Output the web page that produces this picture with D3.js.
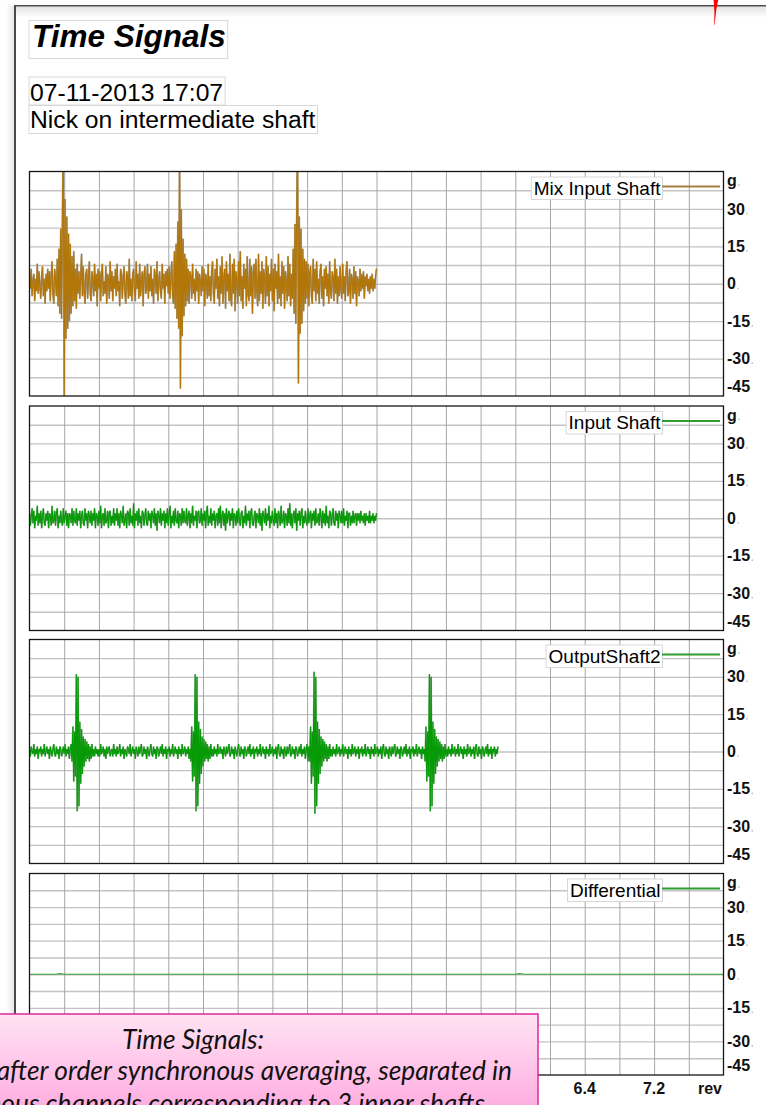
<!DOCTYPE html>
<html><head><meta charset="utf-8">
<script src="https://cdn.jsdelivr.net/npm/d3@7"></script>
<style>
html,body{margin:0;padding:0;background:#fff;}
svg{display:block;}
</style></head><body>
<svg id="chart" width="766" height="1105"></svg>
<script>
// ---- data ----
const revStep = 0.01; // sample spacing of the averaged signals, in revolutions
const channelNames = ["Mix Input Shaft", "Input Shaft", "OutputShaft2", "Differential"];
const xGridRev = [0.4,0.8,1.2,1.6,2.0,2.4,2.8,3.2,3.6,4.0,4.4,4.8,5.2,5.6,6.0,6.4,6.8,7.2,7.6];
const xTickRev = [0.8,1.6,2.4,3.2,4.0,4.8,5.6,6.4,7.2];
const xTickLabels = ["0.8","1.6","2.4","3.2","4.0","4.8","5.6","6.4","7.2"];
const xUnit = "rev";
const yGridG = [-37.5,-30,-22.5,-15,-7.5,0,7.5,15,22.5,30,37.5];
const yTickG = [30,15,0,-15,-30];
const yTickLabels = ["30","15","0","-15","-30"];
const yBottomLabel = "-45";
const yUnit = "g";

// acceleration, g — one value per revStep, starting at 0 rev
const mixInputShaft = [
  3,-2,6,-5,1,4,-7,2,-3,8,-4,5,-1,-6,3,7,-5,2,-8,4,
  -3,6,-2,5,-7,3,9,-4,-8,6,2,-5,10,-9,14,-12,22,-14,30,60,
  -48,34,-22,27,-18,20,-15,16,-12,11,-9,13,-7,6,-10,8,-4,5,-6,3,
  12,-5,7,-3,-8,4,6,-6,2,9,-4,-7,5,1,-5,8,-3,4,-9,6,
  -2,5,-7,3,8,-5,1,-4,7,-8,4,2,-6,9,-3,5,-7,3,-2,6,
  -5,8,-3,1,-9,6,4,-6,2,7,-4,-8,5,3,-6,10,-5,2,-7,4,
  6,-3,-7,9,-2,4,-6,8,-5,1,5,-9,3,7,-4,-2,8,-6,4,-3,
  7,-5,2,-8,6,3,-4,9,-7,1,5,-3,-6,8,-2,4,-8,5,-1,6,
  -4,7,-6,3,9,-5,-8,13,-10,16,-14,25,-18,58,-42,30,-21,18,-13,12,
  -9,10,-7,6,-8,5,3,-6,8,-4,2,-7,6,-3,5,-8,4,1,-5,7,
  -3,6,-9,4,2,-6,8,-5,3,-7,5,9,-4,-8,6,-2,10,-6,3,-9,
  7,-4,11,-8,2,6,-10,9,-3,4,-7,12,-6,-9,8,-4,10,-11,5,2,
  -8,9,-5,13,-7,3,-10,8,-2,6,-9,11,-4,-7,10,-5,7,-12,4,8,
  -6,10,-3,-9,12,-7,5,-4,9,-10,6,2,-8,11,-5,7,-9,4,-3,10,
  -7,6,-11,8,-2,5,-8,12,-6,3,-9,9,-4,7,-10,5,1,-7,11,-5,
  8,-9,4,-6,14,-12,24,-16,29,62,-40,27,-20,22,-16,14,-11,10,-8,9,
  -6,8,-9,4,7,-5,-8,10,-3,6,-7,9,-4,2,-8,5,8,-6,3,-9,
  6,-2,7,-5,4,-8,9,-3,-6,5,2,-7,10,-4,6,-8,3,-5,7,-2,
  -6,8,-4,3,-7,5,9,-5,-3,6,-8,4,2,-6,7,-4,5,-9,3,1,
  -5,6,-3,4,-2,5,-6,3,-1,4,-3,2,-4,3,-2,4,-3,2,-2,3,
  6
];

const inputShaft = [
  2,-3,1,4,-2,3,-4,1,-1,5,-3,2,-2,3,-4,1,4,-2,-3,2,
  -1,3,-4,2,1,-3,5,-2,-1,3,-3,2,4,-4,1,-2,3,-1,-3,4,
  -2,1,3,-3,2,-4,2,1,-2,4,-3,3,-1,-2,4,-3,2,-1,3,-4,
  1,3,-2,-3,4,-1,2,-4,3,1,-2,3,-3,2,-1,4,-4,2,1,-3,
  3,-2,5,-4,1,2,-3,4,-2,-1,3,-4,2,3,-3,1,-2,4,-3,2,
  -1,4,-3,2,-4,3,1,-2,5,-3,-1,2,-4,3,2,-3,4,-2,1,-3,
  6,-4,2,-1,3,-3,4,-2,1,-4,3,2,-3,1,4,-2,-3,3,-1,2,
  -4,3,1,-2,4,-3,2,-5,3,1,-2,4,-3,2,-1,3,-4,2,-2,4,
  -3,2,5,-4,1,-2,3,-3,4,-1,-2,3,-4,2,1,-3,4,-2,3,-1,
  -2,4,-3,1,3,-4,2,-2,5,-3,1,-1,3,-4,2,3,-2,-1,4,-3,
  2,-1,3,-4,2,5,-3,1,-2,4,-3,2,-1,3,-4,1,2,-3,4,-2,
  5,-4,1,3,-3,2,-5,4,-2,1,3,-3,2,-1,4,-4,2,1,-3,3,
  -2,4,-1,-3,2,3,-4,1,-2,5,-3,2,-1,3,-4,2,4,-2,-3,1,
  3,-4,2,1,-2,4,-3,2,-5,3,1,-2,4,-3,2,-1,5,-4,1,-2,
  3,-1,-3,4,-2,2,-4,3,1,-3,5,-2,-1,3,-4,2,1,-3,4,-2,
  6,-3,2,-4,1,3,-2,4,-5,2,-1,3,-3,2,4,-4,1,-2,3,-1,
  -3,4,-2,1,3,-4,2,-1,3,-3,4,-2,-1,2,-3,4,1,-4,3,-2,
  2,-3,5,-2,1,-4,3,2,-3,1,4,-2,-3,3,-1,2,-4,3,1,-2,
  3,-2,4,-3,1,-1,3,-4,2,2,-3,1,-2,3,-2,1,2,-3,2,-1,
  2,-2,3,-1,1,-2,2,-3,2,-1,1,-2,3,-2,1,-1,2,-2,1,-1,
  2
];

const outputShaft2 = [
  1,-2,2,0,-1,3,-2,1,-1,2,-3,1,0,2,-2,1,-1,3,-2,0,
  2,-1,1,-3,2,0,-2,1,3,-1,-2,2,-1,1,-3,2,1,-2,0,2,
  -1,3,-2,1,-1,2,-3,1,3,-4,10,-12,8,-10,31,-24,30,-22,12,-13,
  9,-9,6,-6,5,-4,4,-3,3,-4,2,-3,3,-2,1,-2,2,-1,1,-2,
  1,-2,3,-1,0,2,-2,1,-3,2,-1,1,2,-2,0,1,-2,3,-1,1,
  -2,2,-1,0,3,-2,1,-1,2,-3,1,0,-2,2,1,-1,3,-2,0,2,
  -1,1,-3,2,0,-2,2,-1,1,3,-2,-1,2,-1,1,-3,2,0,-2,1,
  3,-1,-2,2,-1,1,-3,2,1,-2,0,2,-1,3,-2,1,-1,2,-3,1,
  0,2,-2,1,-1,3,-2,0,2,-1,1,-3,2,-1,1,-2,3,-1,0,2,
  -2,1,-1,2,-3,1,-4,10,-12,8,-10,31,-24,30,-22,12,-13,9,-9,6,
  -6,5,-4,4,-3,3,-4,2,-3,3,-2,1,-2,2,-1,1,-2,3,-1,0,
  2,-1,1,-3,2,0,-2,2,-1,1,3,-2,-1,2,-1,1,-3,2,0,-2,
  1,3,-1,-2,2,-1,1,-3,2,1,-2,0,2,-1,3,-2,1,-1,2,-3,
  1,0,2,-2,1,-1,3,-2,0,2,-1,1,-3,2,-1,1,-2,3,-1,0,
  2,-2,1,-1,2,-3,1,3,-1,-2,2,-1,1,-3,2,0,-2,2,-1,1,
  3,-2,-1,2,-1,1,-3,2,1,-2,0,2,-1,3,-2,1,-1,2,-3,1,
  3,-4,2,-4,10,-13,8,-10,32,-25,30,-22,12,-13,9,-9,6,-6,5,-4,
  4,-3,3,-4,2,-3,3,-2,1,-2,2,-1,1,-2,3,-1,0,2,-2,1,
  -1,3,-2,0,2,-1,1,-3,2,-1,1,-2,3,-1,0,2,-2,1,-1,2,
  -3,1,0,2,-2,1,-1,3,-2,0,2,-1,1,-3,2,-1,1,-2,3,-1,
  0,2,-2,1,-1,2,-3,1,3,-1,-2,2,-1,1,-3,2,0,-2,2,-1,
  1,3,-2,-1,2,-1,1,-3,2,1,-2,0,2,-1,3,-2,1,-1,2,-3,
  1,0,2,-2,1,-1,3,-2,0,2,-1,1,-3,2,-1,1,-4,10,-12,8,
  -10,31,-24,30,-22,12,-13,9,-9,6,-6,5,-4,4,-3,3,-4,2,-3,3,
  -2,1,-2,2,-1,1,-2,3,-1,0,2,-2,1,-1,3,-2,0,2,-1,1,
  -3,2,-1,1,-2,3,-1,0,2,-2,1,-1,2,-3,1,3,-1,-2,2,-1,
  1,-3,2,1,-2,0,2,-1,3,-2,1,-1,2,-3,1,0,2,-2,1,-1,
  2
];

// the differential channel stays flat apart from two tiny blips
const differentialRev = [0, 0.3, 0.35, 0.4, 5.6, 5.65, 5.7, 8];
const differentialG   = [0, 0, 0.3, 0, 0, 0.3, 0, 0];

const noteLines = [
  "Time Signals:",
  "Vibration signals after order synchronous averaging, separated in",
  "synchronous channels corresponding to 3 inner shafts"
];

// ---- drawing ----
const svg = d3.select("#chart");
const defs = svg.append("defs");
const FONT = "'Liberation Sans', Arial, Helvetica, sans-serif";
const NOTE_RIGHT = 538;

// page edge with soft shadow
const gTop = defs.append("linearGradient").attr("id","shadowTop").attr("x1",0).attr("y1",0).attr("x2",0).attr("y2",1);
gTop.append("stop").attr("offset",0).attr("stop-color","#e2e2e2");
gTop.append("stop").attr("offset",1).attr("stop-color","#ffffff");
const gLeft = defs.append("linearGradient").attr("id","shadowLeft").attr("x1",0).attr("y1",0).attr("x2",1).attr("y2",0);
gLeft.append("stop").attr("offset",0).attr("stop-color","#ffffff");
gLeft.append("stop").attr("offset",1).attr("stop-color","#e8e8e8");
svg.append("rect").attr("x",15).attr("y",6.5).attr("width",751).attr("height",11).attr("fill","url(#shadowTop)");
svg.append("rect").attr("x",6).attr("y",6).attr("width",8).attr("height",1099).attr("fill","url(#shadowLeft)");
svg.append("line").attr("x1",14).attr("x2",766).attr("y1",5.7).attr("y2",5.7).attr("stroke","#4a4a4a").attr("stroke-width",1.6);
svg.append("line").attr("x1",15).attr("x2",15).attr("y1",5).attr("y2",1105).attr("stroke","#4a4a4a").attr("stroke-width",2);

// header texts with their thin frames
function framedText(txt, xPos, baseline, size, weight, style, boxTop, boxBottom) {
  const grp = svg.append("g");
  const box = grp.append("rect");
  const t = grp.append("text").attr("x", xPos).attr("y", baseline)
    .attr("font-family", FONT).attr("font-size", size)
    .attr("font-weight", weight).attr("font-style", style).attr("fill", "#000").text(txt);
  const w = t.node().getComputedTextLength();
  box.attr("x", 29).attr("y", boxTop)
    .attr("width", xPos + w + 2 - 29).attr("height", boxBottom - boxTop)
    .attr("fill", "none").attr("stroke", "#cfcfcf").attr("stroke-width", 0.8);
}
framedText("Time Signals", 32, 47, 31.5, "bold", "italic", 20.5, 58.5);
framedText("07-11-2013 17:07", 30, 101, 24.7, "normal", "normal", 77, 105);
framedText("Nick on intermediate shaft", 30, 127.5, 24.7, "normal", "normal", 105.5, 133.5);

// channel panels
const X0 = 29.5, X1 = 723.5;
const x = d3.scaleLinear().domain([0, 8]).range([X0, X1]);
const panels = [
  {top:171.5, bottom:396,   series: mixInputShaft, color:"#b27608", halo:"#a39a8e", legend:"#a67e40"},
  {top:406,   bottom:630.5, series: inputShaft,    color:"#069a06", halo:"#88aa88", legend:"#2f9c2f"},
  {top:639.5, bottom:863.5, series: outputShaft2,  color:"#069a06", halo:"#88aa88", legend:"#2f9c2f"},
  {top:873.5, bottom:1075,  series: null,          color:"#3a9e3a", halo:null,      legend:"#2f9c2f"}
];

panels.forEach((p, i) => {
  const y = d3.scaleLinear().domain([-45, 45]).range([p.bottom, p.top]);
  const g = svg.append("g");
  const clipId = "panelClip" + i;
  defs.append("clipPath").attr("id", clipId).append("rect")
    .attr("x", X0).attr("y", p.top).attr("width", X1 - X0).attr("height", p.bottom - p.top);

  // horizontal grid
  g.append("g").attr("transform", `translate(${X0},0)`)
    .call(d3.axisLeft(y).tickValues(yGridG).tickSize(-(X1 - X0)).tickFormat(""))
    .call(s => s.select(".domain").remove())
    .selectAll("line").attr("stroke", "#c3c3c3").attr("stroke-width", 1.4);
  // vertical grid
  g.append("g").attr("transform", `translate(0,${p.bottom})`)
    .call(d3.axisBottom(x).tickValues(xGridRev).tickSize(-(p.bottom - p.top)).tickFormat(""))
    .call(s => s.select(".domain").remove())
    .selectAll("line").attr("stroke", "#a6a6a6").attr("stroke-width", 1);

  // signal trace
  const trace = g.append("g").attr("clip-path", `url(#${clipId})`);
  if (p.series) {
    const line = d3.line().x((d, j) => x(j * revStep)).y(d => y(d));
    trace.append("path").datum(p.series).attr("d", line)
      .attr("fill", "none").attr("stroke", p.halo).attr("stroke-width", 1.7);
    trace.append("path").datum(p.series).attr("d", line)
      .attr("fill", "none").attr("stroke", p.color).attr("stroke-width", 1.1);
  } else {
    const line = d3.line().x((d, j) => x(differentialRev[j])).y(d => y(d));
    trace.append("path").datum(differentialG).attr("d", line)
      .attr("fill", "none").attr("stroke", p.color).attr("stroke-width", 1.2);
  }

  // frame
  g.append("rect").attr("x", X0).attr("y", p.top).attr("width", X1 - X0).attr("height", p.bottom - p.top)
    .attr("fill", "none").attr("stroke", "#161616").attr("stroke-width", 1.3);

  // legend entry
  const lg = g.append("g");
  const lbox = lg.append("rect");
  const lt = lg.append("text").attr("x", 660.5).attr("y", p.top + 23.2)
    .attr("text-anchor", "end").attr("font-family", FONT).attr("font-size", 19).attr("fill", "#000")
    .text(channelNames[i]);
  const lw = lt.node().getComputedTextLength();
  lbox.attr("x", 660.5 - lw - 2.5).attr("y", p.top + 5.5)
    .attr("width", lw + 4.5).attr("height", 22.5)
    .attr("fill", "#fff").attr("stroke", "#cfcfcf").attr("stroke-width", 0.8);
  lg.append("line").attr("x1", 662).attr("x2", 720).attr("y1", p.top + 15).attr("y2", p.top + 15)
    .attr("stroke", p.legend).attr("stroke-width", 2);

  // right-hand value labels
  const labels = [{t: yUnit, b: p.top + 14.5}]
    .concat(yTickG.map((v, k) => ({t: yTickLabels[k], b: y(v) + 5.6})))
    .concat([{t: yBottomLabel, b: p.bottom - 4}]);
  labels.forEach(l => {
    const tt = g.append("text").attr("x", 727).attr("y", l.b)
      .attr("font-family", FONT).attr("font-size", 16).attr("font-weight", "bold").attr("fill", "#111").text(l.t);
    if (l.t !== yBottomLabel) {
      const w = tt.node().getComputedTextLength();
      g.append("circle").attr("cx", 727 + w + 2.2).attr("cy", l.b - 1).attr("r", 0.9).attr("fill", "#c4c4c4");
    }
  });
});

// revolution axis labels under the last panel (the note box hides the left ones)
svg.append("g").selectAll("text")
  .data(xTickRev.map((r, k) => ({r, t: xTickLabels[k]})).filter(d => x(d.r) - 12 > NOTE_RIGHT))
  .join("text")
  .attr("x", d => x(d.r)).attr("y", 1093.5).attr("text-anchor", "middle")
  .attr("font-family", FONT).attr("font-size", 16).attr("font-weight", "bold").attr("fill", "#111")
  .text(d => d.t);
svg.append("text").attr("x", 722).attr("y", 1093.5).attr("text-anchor", "end")
  .attr("font-family", FONT).attr("font-size", 16).attr("font-weight", "bold").attr("fill", "#111").text(xUnit);

// explanatory note
const pinkGrad = defs.append("linearGradient").attr("id","noteFill").attr("x1",0).attr("y1",0).attr("x2",0).attr("y2",1);
pinkGrad.append("stop").attr("offset",0).attr("stop-color","#ffe3f3");
pinkGrad.append("stop").attr("offset",1).attr("stop-color","#ff9fdd");
svg.append("rect").attr("x", -170).attr("y", 1014).attr("width", NOTE_RIGHT + 170).attr("height", 120)
  .attr("fill", "url(#noteFill)").attr("stroke", "#e0279c").attr("stroke-width", 1.5);
const noteFont = "Lato, 'Open Sans', sans-serif";
svg.append("text").attr("x", 193).attr("y", 1048.5).attr("text-anchor", "middle")
  .attr("font-family", noteFont).attr("font-style", "italic").attr("font-size", 26.3).attr("fill", "#111").text(noteLines[0]);
svg.append("text").attr("x", 512).attr("y", 1080).attr("text-anchor", "end")
  .attr("font-family", noteFont).attr("font-style", "italic").attr("font-size", 26.3).attr("fill", "#111").text(noteLines[1]);
svg.append("text").attr("x", 485).attr("y", 1112.5).attr("text-anchor", "end")
  .attr("font-family", noteFont).attr("font-style", "italic").attr("font-size", 26.3).attr("fill", "#111").text(noteLines[2]);

// red pen stroke at the top edge
svg.append("path").attr("d", "M713.6,0 L718.2,0 L716.4,9 L714.6,25 L714.2,25 L714.4,12 Z").attr("fill", "#ff0000");
</script>
</body></html>
